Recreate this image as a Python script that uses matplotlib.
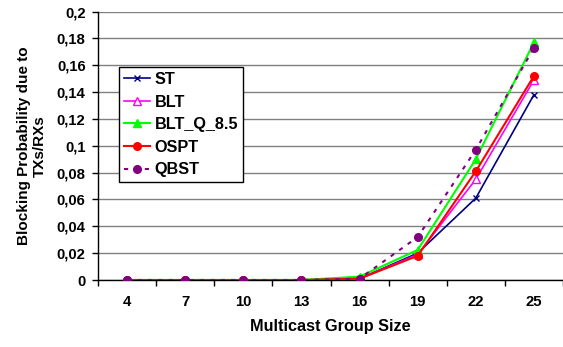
import matplotlib
matplotlib.use("Agg")
import matplotlib.pyplot as plt
import numpy as np

plt.rcParams['font.family'] = ['Liberation Sans', 'DejaVu Sans']

group_sizes = ["4", "7", "10", "13", "16", "19", "22", "25"]
st = [0, 0, 0, 0, 0.001, 0.020, 0.061, 0.138]
blt = [0, 0, 0, 0, 0.001, 0.019, 0.075, 0.149]
blt_q = [0, 0, 0, 0, 0.0025, 0.0224, 0.090, 0.177]
ospt = [0, 0, 0, 0, 0.001, 0.018, 0.081, 0.152]
qbst = [0, 0, 0, 0, 0.001, 0.032, 0.097, 0.173]
y_ticks = [0, 0.02, 0.04, 0.06, 0.08, 0.1, 0.12, 0.14, 0.16, 0.18, 0.2]
y_tick_labels = ["0", "0,02", "0,04", "0,06", "0,08", "0,1", "0,12", "0,14", "0,16", "0,18", "0,2"]

fig = plt.figure(figsize=(5.63, 3.47), dpi=100)
ax = fig.add_axes([98 / 563, 1 - 280 / 347, 465 / 563, (280 - 11.5) / 347])

x = np.arange(len(group_sizes))

ax.plot(x, st, color="#000080", lw=1.2, marker="x", ms=4.5, mew=1, label="ST", zorder=3)
ax.plot(x, blt, color="#FF00FF", lw=1.2, marker="^", ms=5.5, mfc="white", mec="#FF00FF", label="BLT", zorder=3)
ax.plot(x, blt_q, color="#00FF00", lw=1.5, marker="^", ms=5.5, label="BLT_Q_8.5", zorder=3)
ax.plot(x, ospt, color="#FF0000", lw=1.5, marker="o", ms=5.5, label="OSPT", zorder=4)
ax.plot(x, qbst, color="#800080", lw=1.5, ls=(0, (2, 3)), marker="o", ms=5.5, label="QBST", zorder=5)

ax.set_xlim(-0.5, len(group_sizes) - 0.5)
ax.set_ylim(0, 0.2)
ax.set_xticks(x)
ax.set_xticklabels(group_sizes, fontsize=10.7, fontweight="bold")
ax.set_xticks(np.arange(-0.5, len(group_sizes)), minor=True)
ax.tick_params(axis="x", which="major", length=0, pad=11)
ax.tick_params(axis="x", which="minor", length=4, width=1, color="black")
ax.set_yticks(y_ticks)
ax.set_yticklabels(y_tick_labels, fontsize=10.7, fontweight="bold")
ax.tick_params(axis="y", length=4, width=1, pad=5)

ax.yaxis.grid(True, color="#808080", lw=1)
ax.set_axisbelow(True)
for side in ("top", "right"):
    ax.spines[side].set_visible(False)
ax.spines["left"].set_linewidth(1)
ax.spines["bottom"].set_linewidth(1)

ax.set_xlabel("Multicast Group Size", fontsize=11.7, fontweight="bold", labelpad=7)
ax.set_ylabel("Blocking Probability due to\nTXs/RXs", fontsize=11, fontweight="bold", labelpad=7)

leg = ax.legend(loc="upper left", bbox_to_anchor=((119 - 98) / 465, (280 - 67) / 268.5),
                frameon=True, fancybox=False, edgecolor="black", framealpha=1,
                prop={"weight": "bold", "size": 11.7}, handlelength=1.6, handletextpad=0.3,
                labelspacing=0.47, borderpad=0.3, borderaxespad=0)
leg.get_frame().set_linewidth(1)

fig.savefig("out.png", dpi=100)
